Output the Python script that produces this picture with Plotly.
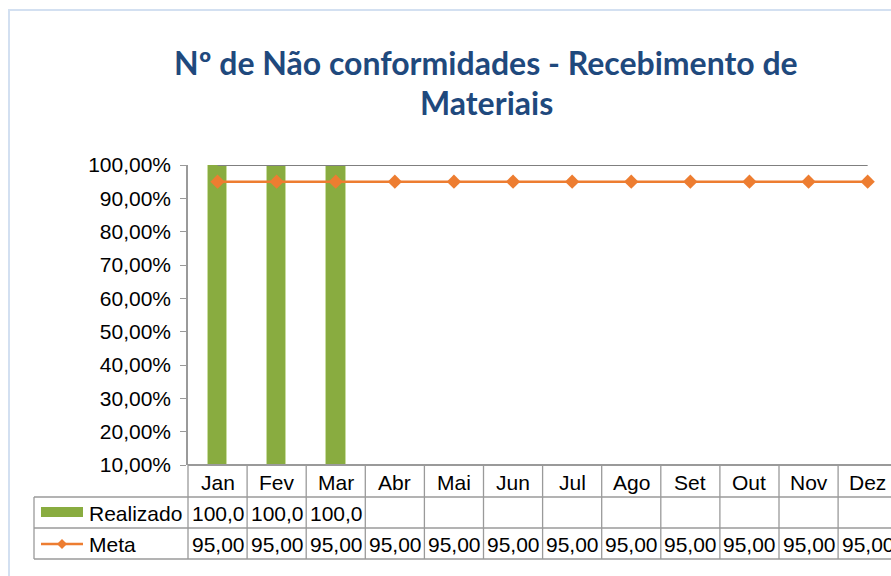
import plotly.graph_objects as go

months = ["Jan", "Fev", "Mar", "Abr", "Mai", "Jun", "Jul", "Ago", "Set", "Out", "Nov", "Dez"]
realizado = [100, 100, 100, None, None, None, None, None, None, None, None, None]
meta = [95] * 12
limite = [100] * 12
tick_vals = [10, 20, 30, 40, 50, 60, 70, 80, 90, 100]
tick_labels = ["10,00%", "20,00%", "30,00%", "40,00%", "50,00%", "60,00%", "70,00%", "80,00%", "90,00%", "100,00%"]
title_lines = ["Nº de Não conformidades - Recebimento de", "Materiais"]
series_names = ["Realizado", "Meta"]

W, H = 891, 576
L, R, T, B = 188, 0, 165, 111
PW, PH = W - L - R, H - T - B
col_w = 59.1
xmax = -0.5 + PW / col_w

def py(ypx):
    return (H - B - ypx) / PH

def px(xpx):
    return (xpx - L) / PW

def fmt(v, nd):
    return f"{v:.{nd}f}".replace(".", ",")

green = "#89AC40"
orange = "#ED7D31"
grid = "#9A9A9A"
font = "Liberation Sans, Arial, sans-serif"

fig = go.Figure()
fig.add_trace(go.Bar(x=list(range(12)), y=[(v - 10) if v is not None else None for v in realizado],
                     base=10, width=0.33, marker=dict(color=green, line=dict(color="#C9DDA0", width=1)),
                     showlegend=False, hoverinfo="skip"))
fig.add_trace(go.Scatter(x=list(range(12)), y=limite, mode="lines", line=dict(color="#7F7F7F", width=2),
                         showlegend=False, hoverinfo="skip"))
fig.add_trace(go.Scatter(x=list(range(12)), y=meta, mode="lines+markers",
                         line=dict(color=orange, width=2.5),
                         marker=dict(symbol="diamond", size=11, color=orange),
                         showlegend=False, hoverinfo="skip"))

shapes = []
line = dict(color=grid, width=1.3)
shapes.append(dict(type="line", xref="paper", yref="paper", x0=0, x1=1.05, y0=py(465), y1=py(465), line=dict(color=grid, width=2)))
for yy in [497, 528, 559]:
    shapes.append(dict(type="line", xref="paper", yref="paper", x0=px(34), x1=1.05, y0=py(yy), y1=py(yy), line=line))
shapes.append(dict(type="line", xref="paper", yref="paper", x0=px(34), x1=px(34), y0=py(497), y1=py(559), line=line))
shapes.append(dict(type="line", xref="paper", yref="paper", x0=0, x1=0, y0=py(465), y1=py(559), line=line))
for k in range(1, 13):
    shapes.append(dict(type="line", xref="x", yref="paper", x0=k - 0.5, x1=k - 0.5, y0=py(465), y1=py(559), line=line))
shapes.append(dict(type="rect", xref="paper", yref="paper", x0=px(41), x1=px(83), y0=py(517), y1=py(507),
                   fillcolor=green, line=dict(width=0)))
shapes.append(dict(type="line", xref="paper", yref="paper", x0=px(41), x1=px(83), y0=py(544), y1=py(544),
                   line=dict(color=orange, width=2.5)))
d = 5
shapes.append(dict(type="path", xref="paper", yref="paper",
                   path=f"M {px(62-d)},{py(544)} L {px(62)},{py(544-d)} L {px(62+d)},{py(544)} L {px(62)},{py(544+d)} Z",
                   fillcolor=orange, line=dict(width=0)))
shapes.append(dict(type="line", xref="paper", yref="paper", x0=px(8), x1=1.05, y0=py(10), y1=py(10),
                   line=dict(color="#D3E0F1", width=2)))
shapes.append(dict(type="line", xref="paper", yref="paper", x0=px(9), x1=px(9), y0=py(10), y1=py(590),
                   line=dict(color="#D3E0F1", width=2)))

ann = []
tfont = dict(family="Lato, sans-serif", size=32, color="#1F497D")
ann.append(dict(text="<b>" + title_lines[0] + "</b>", xref="paper", yref="paper", x=px(486), y=py(62),
                xanchor="center", yanchor="middle", showarrow=False, font=tfont))
ann.append(dict(text="<b>" + title_lines[1] + "</b>", xref="paper", yref="paper", x=px(486), y=py(103),
                xanchor="center", yanchor="middle", showarrow=False, font=tfont))
cfont = dict(family=font, size=21, color="#000000")
for i, m in enumerate(months):
    ann.append(dict(text=m, xref="x", yref="paper", x=i, y=py(482), xanchor="center", yanchor="middle",
                    showarrow=False, font=cfont))
    if realizado[i] is not None:
        ann.append(dict(text=fmt(realizado[i], 1), xref="x", yref="paper", x=i, y=py(513),
                        xanchor="center", yanchor="middle", showarrow=False, font=cfont,
                        width=56, align="left", borderpad=0, xshift=2))
    ann.append(dict(text=fmt(meta[i], 2), xref="x", yref="paper", x=i, y=py(544),
                    xanchor="center", yanchor="middle", showarrow=False, font=cfont,
                    width=56, align="left", borderpad=0, xshift=2))
ann.append(dict(text=series_names[0], xref="paper", yref="paper", x=px(87), y=py(513), xanchor="left",
                yanchor="middle", showarrow=False, font=cfont))
ann.append(dict(text=series_names[1], xref="paper", yref="paper", x=px(87), y=py(544), xanchor="left",
                yanchor="middle", showarrow=False, font=cfont))

fig.update_layout(
    width=W, height=H, margin=dict(l=L, r=R, t=T, b=B, pad=0),
    paper_bgcolor="white", plot_bgcolor="white",
    shapes=shapes, annotations=ann, bargap=0,
    xaxis=dict(range=[-0.5, xmax], showticklabels=False, showgrid=False, zeroline=False, showline=False, ticks=""),
    yaxis=dict(range=[10, 100], tickvals=tick_vals, ticktext=tick_labels, showgrid=False, zeroline=False,
               showline=True, linecolor=grid, linewidth=1.5, ticks="outside", ticklen=6, tickcolor=grid,
               tickfont=dict(family=font, size=21, color="#000000"), ticklabelstandoff=5),
    font=dict(family=font),
)
fig.write_html("out.html", config={"displayModeBar": False},
               post_script="document.body.style.margin='0';document.body.style.overflow='hidden';")
